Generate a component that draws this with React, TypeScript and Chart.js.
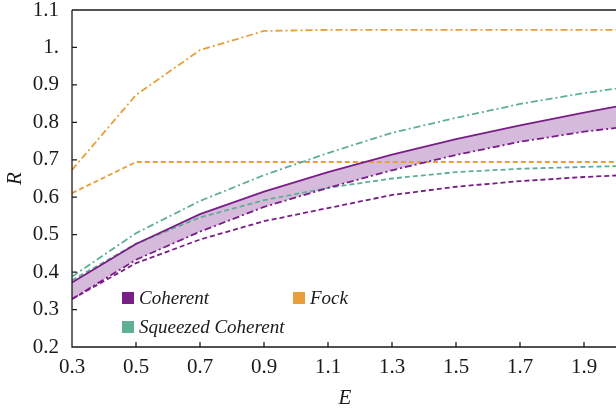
import React, { useEffect, useRef } from "react";
import { Chart, registerables } from "chart.js";

Chart.register(...registerables);

// ---- data ----
const energies = [0.3, 0.5, 0.7, 0.9, 1.1, 1.3, 1.5, 1.7, 1.9, 2.0];
const coherentUpper = [0.372, 0.475, 0.555, 0.615, 0.667, 0.714, 0.755, 0.792, 0.826, 0.842];
const coherentLower = [0.328, 0.433, 0.508, 0.574, 0.625, 0.672, 0.713, 0.748, 0.775, 0.785];
const coherentLowest = [0.328, 0.424, 0.487, 0.536, 0.571, 0.606, 0.628, 0.643, 0.654, 0.658];
const squeezedUpper = [0.388, 0.504, 0.59, 0.659, 0.718, 0.772, 0.812, 0.849, 0.878, 0.89];
const squeezedLower = [0.378, 0.476, 0.546, 0.592, 0.625, 0.65, 0.667, 0.676, 0.681, 0.683];
const fockUpper = [0.673, 0.873, 0.993, 1.044, 1.047, 1.047, 1.047, 1.047, 1.047, 1.047];
const fockLower = [0.611, 0.694, 0.694, 0.694, 0.694, 0.694, 0.694, 0.694, 0.694, 0.694];

const xTicks = [0.3, 0.5, 0.7, 0.9, 1.1, 1.3, 1.5, 1.7, 1.9];
const yTicks = [0.2, 0.3, 0.4, 0.5, 0.6, 0.7, 0.8, 0.9, 1.0, 1.1];

const legendLabels = ["Coherent", "Fock", "Squeezed Coherent"];

const PURPLE = "#7a1e87";
const TEAL = "#5faf97";
const ORANGE = "#e89f3a";
const FILL = "#d6badb";

const DASH = [5, 3];
const DOTDASH = [7, 3, 2, 3];

const SERIF = '"Liberation Serif", "DejaVu Serif", serif';

const fmt = (v: number) => {
  const s = (+v).toFixed(1);
  return s === "1.0" ? "1." : s;
};

const pts = (ys: number[]) => energies.map((x, i) => ({ x, y: ys[i] }));

const decorPlugin = {
  id: "decor",
  afterDraw(chart: any) {
    const ctx = chart.ctx as CanvasRenderingContext2D;
    const { left, right, top, bottom } = chart.chartArea;
    const xs = chart.scales.x;
    const ys = chart.scales.y;
    ctx.save();
    ctx.strokeStyle = "#1a1a1a";
    ctx.lineWidth = 1.3;
    ctx.beginPath();
    ctx.moveTo(left, top);
    ctx.lineTo(right, top);
    ctx.moveTo(left, top);
    ctx.lineTo(left, bottom);
    ctx.lineTo(right, bottom);
    xTicks.forEach((v) => {
      const px = xs.getPixelForValue(v);
      ctx.moveTo(px, bottom);
      ctx.lineTo(px, bottom - 5);
    });
    yTicks.forEach((v) => {
      const py = ys.getPixelForValue(v);
      ctx.moveTo(left, py);
      ctx.lineTo(left + 5, py);
    });
    ctx.stroke();

    // legend
    const items = [
      { label: legendLabels[0], color: PURPLE, x: left + 50, y: top + 282 },
      { label: legendLabels[1], color: ORANGE, x: left + 221, y: top + 282 },
      { label: legendLabels[2], color: TEAL, x: left + 50, y: top + 311 },
    ];
    ctx.font = "italic 19px " + SERIF;
    ctx.textBaseline = "middle";
    ctx.textAlign = "left";
    items.forEach((it) => {
      ctx.fillStyle = it.color;
      ctx.fillRect(it.x, it.y, 12, 12);
      ctx.fillStyle = "#1a1a1a";
      ctx.fillText(it.label, it.x + 17, it.y + 7);
    });

    // axis titles
    ctx.font = "italic 21px " + SERIF;
    ctx.textAlign = "center";
    ctx.fillText("E", (left + right) / 2 + 1, bottom + 51);
    ctx.translate(left - 57, (top + bottom) / 2);
    ctx.rotate(-Math.PI / 2);
    ctx.fillText("R", 0, 0);
    ctx.restore();
  },
};

export default function App() {
  const ref = useRef<HTMLCanvasElement>(null);
  useEffect(() => {
    const line = (data: number[], color: string, dash: number[], extra: any = {}) => ({
      data: pts(data),
      borderColor: color,
      borderWidth: 1.8,
      borderDash: dash,
      pointRadius: 0,
      tension: 0,
      fill: false,
      ...extra,
    });
    const tickFont = { family: SERIF, size: 21 };
    const chart = new Chart(ref.current!, {
      type: "line",
      data: {
        datasets: [
          line(coherentUpper, PURPLE, [], { fill: { target: 1 }, backgroundColor: FILL }),
          line(coherentLower, PURPLE, DOTDASH),
          line(coherentLowest, PURPLE, DASH),
          line(squeezedUpper, TEAL, DOTDASH),
          line(squeezedLower, TEAL, DASH),
          line(fockUpper, ORANGE, DOTDASH),
          line(fockLower, ORANGE, DASH),
        ] as any,
      },
      options: {
        responsive: false,
        animation: false,
        layout: { padding: { top: 10, right: 0, left: 0, bottom: 0 } },
        plugins: {
          legend: { display: false },
          tooltip: { enabled: false },
          filler: { drawTime: "beforeDatasetsDraw" },
        } as any,
        scales: {
          x: {
            type: "linear",
            min: 0.3,
            max: 2.0,
            grid: { display: false },
            border: { display: false },
            afterBuildTicks: (s: any) => {
              s.ticks = xTicks.map((v) => ({ value: v }));
            },
            afterFit: (s: any) => {
              s.height = 69;
              s.paddingLeft = 0;
              s.paddingRight = 0;
            },
            ticks: {
              font: tickFont,
              color: "#1a1a1a",
              padding: 0,
              maxRotation: 0,
              autoSkip: false,
              callback: (v: any) => fmt(v),
            },
          },
          y: {
            type: "linear",
            min: 0.2,
            max: 1.1,
            grid: { display: false },
            border: { display: false },
            afterBuildTicks: (s: any) => {
              s.ticks = yTicks.map((v) => ({ value: v }));
            },
            afterFit: (s: any) => {
              s.width = 72;
              s.paddingTop = 0;
              s.paddingBottom = 0;
            },
            ticks: {
              font: tickFont,
              color: "#1a1a1a",
              padding: 5,
              autoSkip: false,
              callback: (v: any) => fmt(v),
            },
          },
        },
      } as any,
      plugins: [decorPlugin],
    });
    return () => chart.destroy();
  }, []);
  return (
    <div style={{ position: "fixed", left: 0, top: 0, width: 616, height: 416, background: "#fff" }}>
      <canvas ref={ref} width={616} height={416} style={{ display: "block" }} />
    </div>
  );
}
